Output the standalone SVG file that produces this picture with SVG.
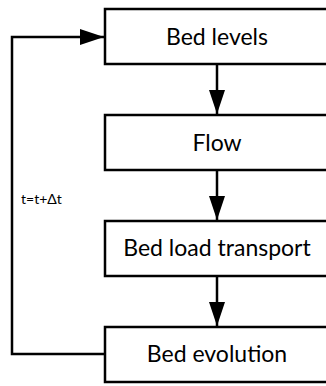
<svg xmlns="http://www.w3.org/2000/svg" width="326" height="386" viewBox="0 0 326 386">
<style>
.box{fill:#fff;stroke:#000;stroke-width:2.5}
.lbl{font-family:Lato,"Open Sans","Liberation Sans",sans-serif;font-size:23px;fill:#000;text-anchor:middle}
.small{font-family:Lato,"Open Sans","Liberation Sans",sans-serif;font-size:14px;fill:#000}
.con{fill:none;stroke:#000;stroke-width:2.5}
</style>
<defs>
<marker id="ah" viewBox="0 0 24 16" refX="24" refY="8" markerWidth="24" markerHeight="16" markerUnits="userSpaceOnUse" orient="auto">
<path d="M0,0 L24,8 L0,16 Z" fill="#000"/>
</marker>
</defs>
<g id="connectors">
<line class="con" x1="217" y1="64" x2="217" y2="114" marker-end="url(#ah)"/>
<line class="con" x1="217" y1="170" x2="217" y2="220" marker-end="url(#ah)"/>
<line class="con" x1="217" y1="276" x2="217" y2="326" marker-end="url(#ah)"/>
<polyline class="con" points="105,354 12,354 12,37 104,37" marker-end="url(#ah)"/>
<text class="small" x="21" y="204">t=t+Δt</text>
</g>
<g id="bed-levels">
<rect class="box" x="105" y="9" width="224" height="55"/>
<text class="lbl" x="217" y="45">Bed levels</text>
</g>
<g id="flow">
<rect class="box" x="105" y="115" width="224" height="55"/>
<text class="lbl" x="217" y="151">Flow</text>
</g>
<g id="bed-load-transport">
<rect class="box" x="105" y="221" width="224" height="55"/>
<text class="lbl" x="217" y="256">Bed load transport</text>
</g>
<g id="bed-evolution">
<rect class="box" x="105" y="327" width="224" height="55"/>
<text class="lbl" x="217" y="362">Bed evolution</text>
</g>
</svg>
